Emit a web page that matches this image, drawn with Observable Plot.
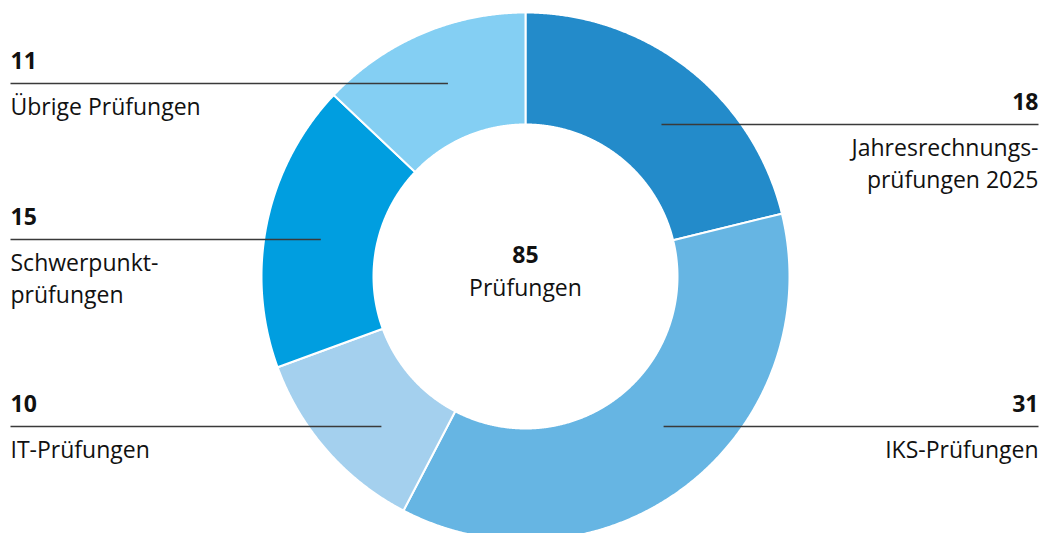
<!DOCTYPE html>
<html>
<head>
<meta charset="utf-8">
<script src="https://cdn.jsdelivr.net/npm/d3@7"></script>
<script src="https://cdn.jsdelivr.net/npm/@observablehq/plot@0.6"></script>
<style>
  html, body { margin: 0; padding: 0; background: #fff; }
  #chart { width: 1041px; height: 533px; }
</style>
</head>
<body>
<div id="chart"></div>
<script>
// ---- data ----
const categories = ["Jahresrechnungsprüfungen 2025", "IKS-Prüfungen", "IT-Prüfungen", "Schwerpunktprüfungen", "Übrige Prüfungen"];
const labels = ["Jahresrechnungs-\nprüfungen 2025", "IKS-Prüfungen", "IT-Prüfungen", "Schwerpunkt-\nprüfungen", "Übrige Prüfungen"];
const values = [18, 31, 10, 15, 11];
const colors = ["#238bca", "#66b5e3", "#a4d0ee", "#009ee0", "#84cff3"];
const totalLabel = "Prüfungen";

// ---- layout ----
const W = 1041, H = 533;
const cx = 525, cy = 276;
const R = 264, r = 152;
const side = ["right", "right", "left", "left", "left"];
const lineY = [124, 426, 426, 239, 83];   // pixel rows of leader lines
const leftX = 10, rightX = 1038;
const midR = (R + r) / 2;
const fs = 23;

const total = d3.sum(values);
const pie = d3.pie().sort(null).value(d => d)(values);

// polygon points for every slice, derived from pie angles
const poly = [];
pie.forEach((a, i) => {
  const n = Math.max(8, Math.ceil((a.endAngle - a.startAngle) / 0.005));
  for (let k = 0; k <= n; k++) {
    const t = a.startAngle + (a.endAngle - a.startAngle) * k / n;
    poly.push({name: categories[i], x: R * Math.sin(t), y: -R * Math.cos(t)});
  }
  for (let k = n; k >= 0; k--) {
    const t = a.startAngle + (a.endAngle - a.startAngle) * k / n;
    poly.push({name: categories[i], x: r * Math.sin(t), y: -r * Math.cos(t)});
  }
});

const ann = categories.map((c, i) => {
  const ly = lineY[i] - cy;
  const dx = Math.sqrt(Math.max(0, midR * midR - ly * ly));
  const isLeft = side[i] === "left";
  return {
    name: c,
    value: values[i],
    label: labels[i],
    y: ly,
    x1: isLeft ? leftX - cx : rightX - cx,
    x2: isLeft ? -dx : dx - 6,
    anchor: isLeft ? "start" : "end"
  };
});

const font = "'Open Sans', 'Noto Sans', sans-serif";
const L = ann.filter(d => d.anchor === "start");
const Rt = ann.filter(d => d.anchor === "end");

const chart = Plot.plot({
  width: W,
  height: H,
  margin: 0,
  style: {fontFamily: font, background: "#fff", overflow: "hidden"},
  x: {domain: [-cx, W - cx], range: [0, W], axis: null},
  y: {domain: [-cy, H - cy], range: [0, H], axis: null},
  color: {domain: categories, range: colors},
  marks: [
    Plot.line(poly, {x: "x", y: "y", z: "name", fill: "name", stroke: "#fff", strokeWidth: 2, curve: "linear-closed"}),
    Plot.link(ann, {x1: "x1", x2: "x2", y1: "y", y2: "y", stroke: "#3a3a3a", strokeWidth: 1.5}),
    Plot.text(L, {x: "x1", y: d => d.y - 22, text: d => String(d.value), textAnchor: "start", lineAnchor: "middle", fontSize: fs, fontWeight: "bold", fill: "#111"}),
    Plot.text(Rt, {x: "x1", y: d => d.y - 22, text: d => String(d.value), textAnchor: "end", lineAnchor: "middle", fontSize: fs, fontWeight: "bold", fill: "#111"}),
    Plot.text(L, {x: "x1", y: d => d.y + 9, text: "label", textAnchor: "start", lineAnchor: "top", lineHeight: 32 / fs, fontSize: fs, fill: "#111"}),
    Plot.text(Rt, {x: "x1", y: d => d.y + 9, text: "label", textAnchor: "end", lineAnchor: "top", lineHeight: 32 / fs, fontSize: fs, fill: "#111"}),
    Plot.text([total], {x: () => 0, y: () => -21, text: d => String(d), fontSize: fs, fontWeight: "bold", fill: "#111"}),
    Plot.text([totalLabel], {x: () => 0, y: () => 12, text: d => d, fontSize: fs, fill: "#111"})
  ]
});

document.getElementById("chart").appendChild(chart);
</script>
</body>
</html>
